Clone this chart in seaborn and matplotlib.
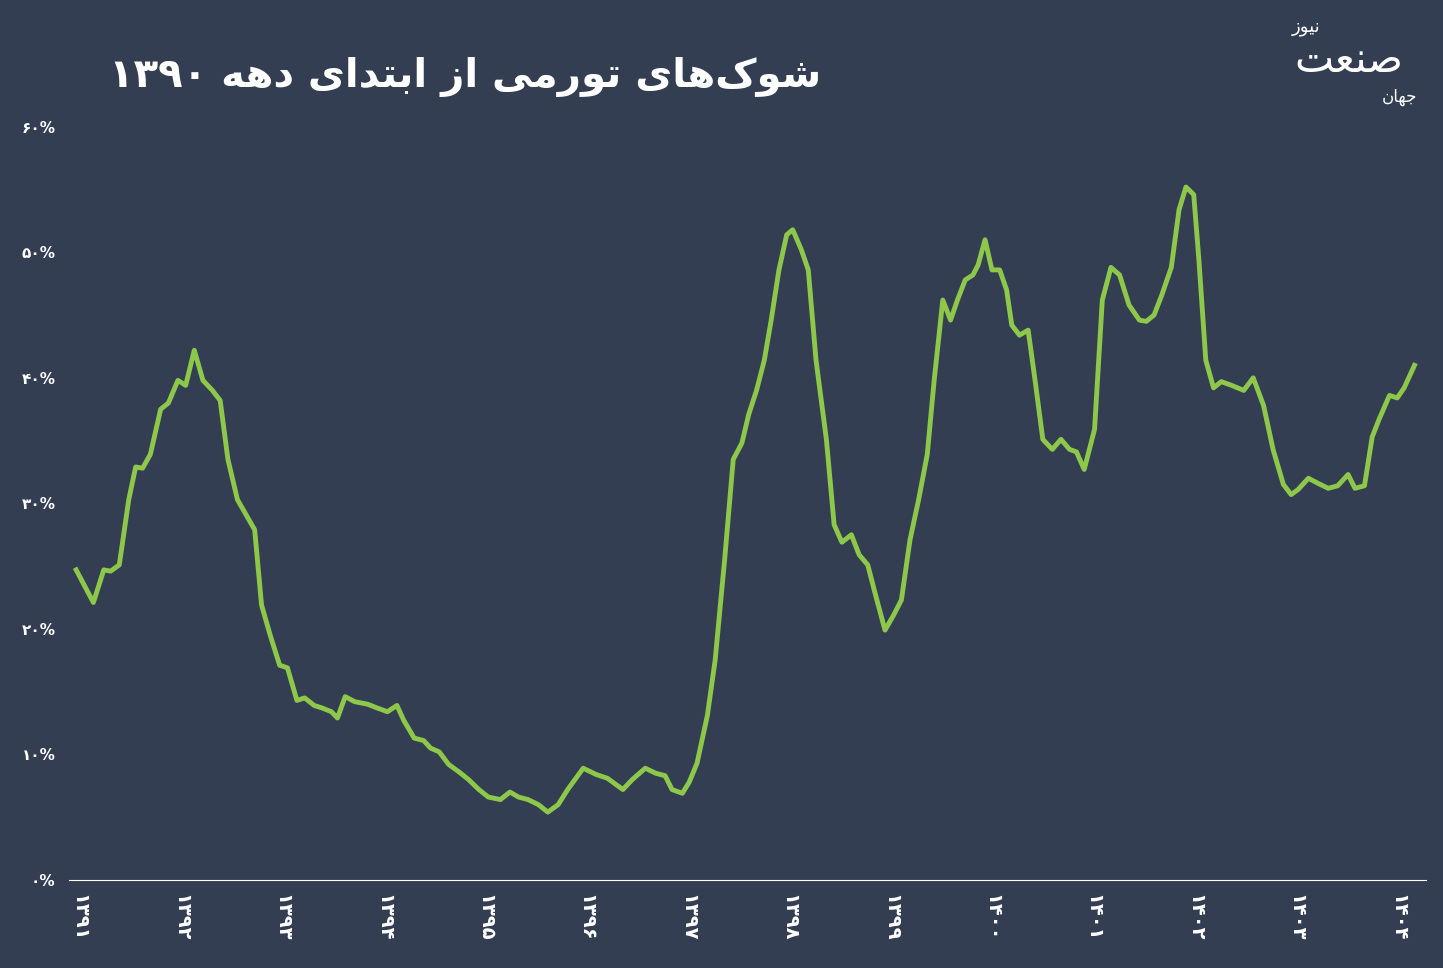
import matplotlib
matplotlib.use("Agg")
import matplotlib.pyplot as plt
import pandas as pd
import seaborn as sns

# months since the start of 1391 and inflation (%)
months = [0, 2.0, 3.2, 4.0, 5.0, 6.1, 6.9, 7.7, 8.6, 9.8, 10.7, 11.8, 12.7, 13.7, 14.7, 15.8,
          16.7, 17.6, 18.7, 19.7, 20.7, 21.5, 22.5, 23.6, 24.5, 25.6, 26.5, 27.6, 28.5, 29.6,
          30.3, 31.2, 32.3, 33.8, 34.9, 36.1, 37.2, 38.0, 39.2, 40.3, 41.1, 42.1, 43.2, 44.4,
          45.5, 46.7, 47.8, 49.2, 50.3, 51.3, 52.4, 53.6, 54.7, 55.9, 57.0, 58.8, 60.3, 61.6,
          63.4, 64.5, 66.0, 67.2, 68.3, 69.1, 70.3, 71.1, 72.0, 73.2, 74.1, 75.2, 76.2, 77.2,
          78.0, 78.9, 79.8, 80.6, 81.5, 82.4, 83.1, 84.1, 84.9, 85.8, 87.0, 87.9, 88.8, 89.9,
          90.8, 91.8, 92.7, 93.8, 94.8, 95.7, 96.7, 97.7, 98.7, 99.5, 100.5, 101.4, 102.2,
          103.1, 104.0, 104.6, 105.4, 106.2, 107.1, 107.9, 108.5, 109.4, 110.4, 111.2, 112.1,
          113.2, 114.2, 115.2, 116.0, 116.9, 118.1, 119.0, 120.0, 121.0, 122.1, 123.3, 124.1,
          125.0, 125.9, 127.0, 127.9, 128.7, 129.6, 130.2, 131.0, 131.9, 132.8, 134.0, 135.4,
          136.5, 137.7, 138.8, 140.0, 140.9, 141.7, 142.9, 144.0, 145.2, 146.3, 147.5, 148.3,
          149.4, 150.3, 151.1, 152.3, 153.2, 154.0, 155.2]
inflation = [24.7, 22.1, 24.7, 24.6, 25.1, 30.3, 32.9, 32.8, 33.9, 37.5, 38.0, 39.8, 39.4,
             42.2, 39.8, 39.0, 38.2, 33.5, 30.3, 29.1, 27.9, 21.9, 19.5, 17.1, 16.9, 14.3,
             14.5, 13.9, 13.7, 13.4, 12.9, 14.6, 14.2, 14.0, 13.7, 13.4, 13.9, 12.7, 11.3,
             11.1, 10.5, 10.2, 9.2, 8.6, 8.0, 7.2, 6.6, 6.4, 7.0, 6.6, 6.4, 6.0, 5.4, 6.0,
             7.2, 8.9, 8.4, 8.1, 7.2, 8.0, 8.9, 8.5, 8.3, 7.2, 6.9, 7.8, 9.3, 13.1, 17.5,
             25.5, 33.5, 34.8, 37.1, 39.0, 41.4, 44.6, 48.6, 51.4, 51.8, 50.2, 48.6, 41.4,
             35.1, 28.3, 26.9, 27.5, 25.9, 25.1, 22.7, 19.9, 21.1, 22.3, 27.1, 30.3, 33.9,
             39.8, 46.2, 44.6, 46.2, 47.8, 48.2, 49.0, 51.0, 48.6, 48.6, 47.0, 44.2, 43.4,
             43.8, 39.8, 35.1, 34.3, 35.1, 34.3, 34.1, 32.7, 35.9, 46.2, 48.8, 48.2, 45.8,
             44.6, 44.5, 45.0, 46.6, 48.8, 53.4, 55.2, 54.6, 49.4, 41.4, 39.2, 39.7, 39.4,
             39.0, 40.0, 37.8, 34.3, 31.5, 30.7, 31.1, 32.0, 31.6, 31.2, 31.4, 32.3, 31.2,
             31.4, 35.3, 36.7, 38.6, 38.4, 39.2, 41.0]
year_labels = ["۱۳۹۱", "۱۳۹۲", "۱۳۹۳", "۱۳۹۴", "۱۳۹۵", "۱۳۹۶", "۱۳۹۷", "۱۳۹۸", "۱۳۹۹",
               "۱۴۰۰", "۱۴۰۱", "۱۴۰۲", "۱۴۰۳", "۱۴۰۴"]
pct_labels = ["۰%", "۱۰%", "۲۰%", "۳۰%", "۴۰%", "۵۰%", "۶۰%"]
title = "شوک\u200cهای تورمی از ابتدای دهه ۱۳۹۰"

# minimal arabic shaping: iso, final, initial, medial
FORMS = {
    'ا': ('\uFE8D', '\uFE8E', None, None), 'ب': ('\uFE8F', '\uFE90', '\uFE91', '\uFE92'),
    'ت': ('\uFE95', '\uFE96', '\uFE97', '\uFE98'), 'ج': ('\uFE9D', '\uFE9E', '\uFE9F', '\uFEA0'),
    'د': ('\uFEA9', '\uFEAA', None, None), 'ر': ('\uFEAD', '\uFEAE', None, None),
    'ز': ('\uFEAF', '\uFEB0', None, None), 'ش': ('\uFEB5', '\uFEB6', '\uFEB7', '\uFEB8'),
    'ص': ('\uFEB9', '\uFEBA', '\uFEBB', '\uFEBC'), 'ع': ('\uFEC9', '\uFECA', '\uFECB', '\uFECC'),
    'م': ('\uFEE1', '\uFEE2', '\uFEE3', '\uFEE4'), 'ن': ('\uFEE5', '\uFEE6', '\uFEE7', '\uFEE8'),
    'ه': ('\uFEE9', '\uFEEA', '\uFEEB', '\uFEEC'), 'و': ('\uFEED', '\uFEEE', None, None),
    'ک': ('\uFB8E', '\uFB8F', '\uFB90', '\uFB91'), 'ی': ('\uFBFC', '\uFBFD', '\uFBFE', '\uFBFF'),
}


def shape_word(word):
    if not any(c in FORMS for c in word):
        return word
    out = []
    for i, c in enumerate(word):
        if c not in FORMS:
            out.append(c)
            continue
        prev = word[i - 1] if i > 0 else None
        nxt = word[i + 1] if i + 1 < len(word) else None
        jp = prev in FORMS and FORMS[prev][2] is not None
        jn = nxt in FORMS and FORMS[c][2] is not None
        iso, fin, ini, med = FORMS[c]
        out.append(med if jp and jn else fin if jp else ini if jn else iso)
    return "".join(out).replace("\u200c", "")[::-1]


def rtl(text):
    return " ".join(shape_word(w) for w in text.split(" ")[::-1])


bg = "#343e52"
green = "#8dc84a"
df = pd.DataFrame({"month": months, "inflation": inflation})

fig = plt.figure(figsize=(14.43, 9.68), dpi=100, facecolor=bg)
ax = fig.add_axes([0.048, 0.091, 0.94, 0.778], facecolor=bg)
sns.lineplot(data=df, x="month", y="inflation", color=green, lw=3.5, ax=ax)

ax.set_xlim(-0.8, 156.5)
ax.set_ylim(0, 60)
ax.set_yticks(range(0, 70, 10))
ax.set_yticklabels(pct_labels, color="white", fontsize=11, fontweight="bold")
ax.set_xticks([0.35 + 11.76 * i for i in range(len(year_labels))])
ax.set_xticklabels(year_labels, rotation=-90, color="white", fontsize=14, fontweight="bold")
ax.tick_params(length=0, pad=10)
for s in ["top", "right", "left"]:
    ax.spines[s].set_visible(False)
ax.spines["bottom"].set_color("white")
ax.spines["bottom"].set_linewidth(0.8)
ax.set_xlabel("")
ax.set_ylabel("")

fig.text(0.322, 0.92, rtl(title), color="white", fontsize=29, fontweight="bold",
         ha="center", va="center")
# logo
fig.text(0.935, 0.938, rtl("صنعت"), color="white", fontsize=30,
         ha="center", va="center")
fig.text(0.905, 0.972, rtl("نیوز"), color="white", fontsize=13, ha="center", va="center")
fig.text(0.97, 0.9, rtl("جهان"), color="white", fontsize=12, ha="center", va="center")

fig.savefig("out.png", dpi=100, facecolor=bg)
